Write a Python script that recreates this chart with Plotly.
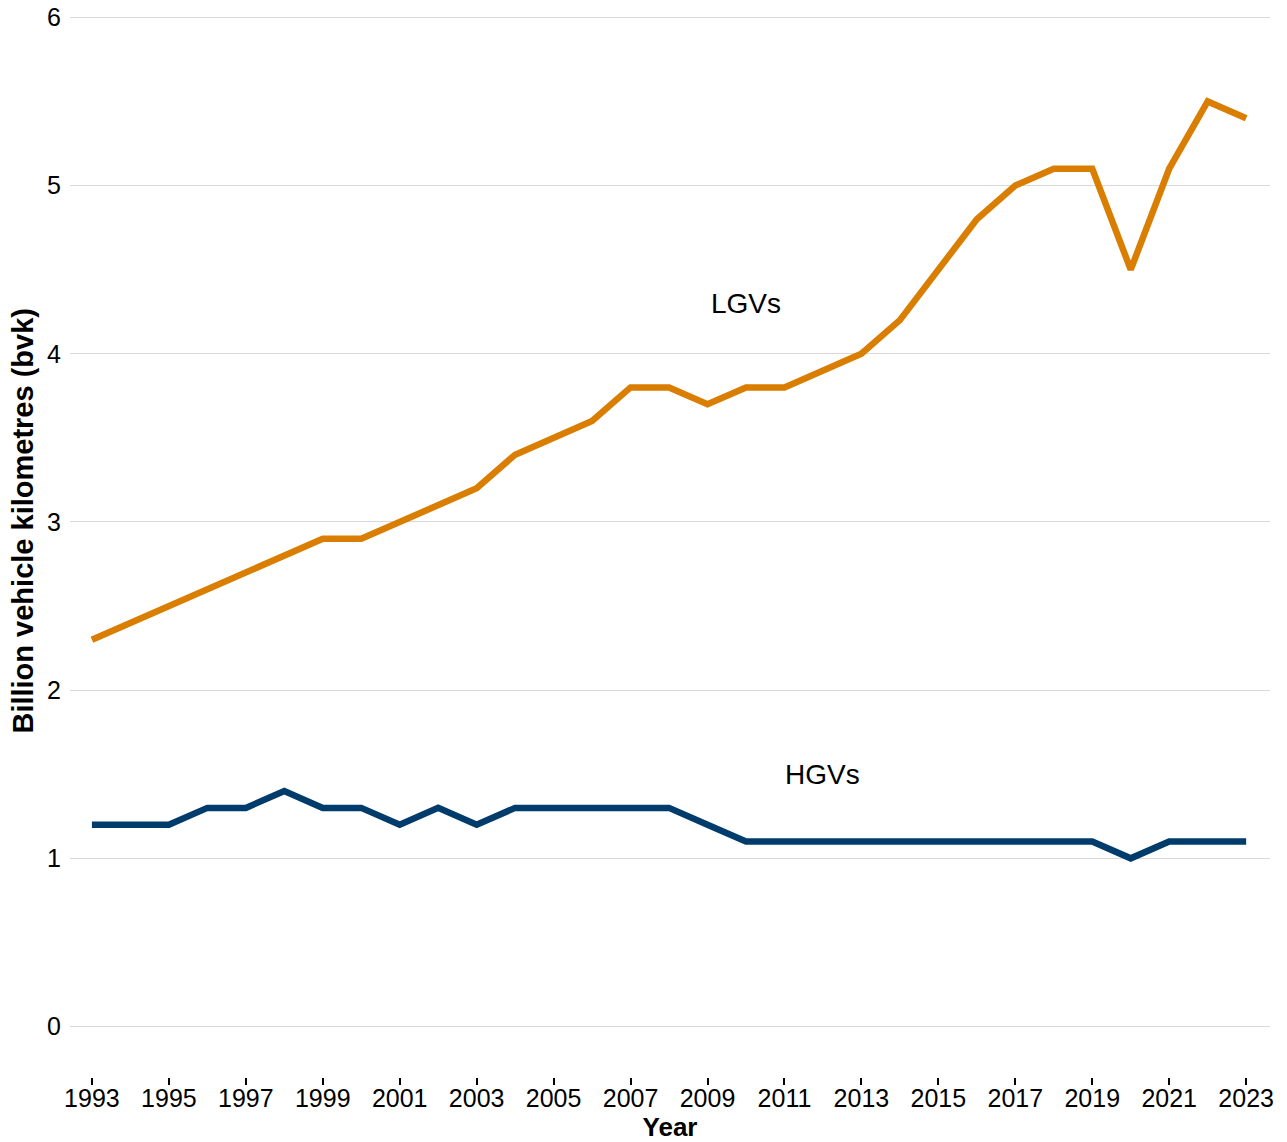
import plotly.graph_objects as go

years = list(range(1993, 2024))
lgv = [2.3, 2.4, 2.5, 2.6, 2.7, 2.8, 2.9, 2.9, 3.0, 3.1, 3.2, 3.4, 3.5, 3.6, 3.8, 3.8,
       3.7, 3.8, 3.8, 3.9, 4.0, 4.2, 4.5, 4.8, 5.0, 5.1, 5.1, 4.5, 5.1, 5.5, 5.4]
hgv = [1.2, 1.2, 1.2, 1.3, 1.3, 1.4, 1.3, 1.3, 1.2, 1.3, 1.2, 1.3, 1.3, 1.3, 1.3, 1.3,
       1.2, 1.1, 1.1, 1.1, 1.1, 1.1, 1.1, 1.1, 1.1, 1.1, 1.1, 1.0, 1.1, 1.1, 1.1]
tick_years = list(range(1993, 2024, 2))
y_ticks = [0, 1, 2, 3, 4, 5, 6]

FONT = "Liberation Sans, Arial, sans-serif"

fig = go.Figure()
fig.add_trace(go.Scatter(x=years, y=lgv, mode="lines", name="LGVs",
                         line=dict(color="#D97E00", width=6.5)))
fig.add_trace(go.Scatter(x=years, y=hgv, mode="lines", name="HGVs",
                         line=dict(color="#003C6B", width=6.5)))

fig.add_annotation(x=2010, y=4.3, text="LGVs", showarrow=False,
                   font=dict(family=FONT, size=28, color="#000000"))
fig.add_annotation(x=2012, y=1.5, text="HGVs", showarrow=False,
                   font=dict(family=FONT, size=28, color="#000000"))
# y-axis title (placed as annotation to match the reference position)
fig.add_annotation(xref="paper", yref="paper", x=-0.03875, y=0.523,
                   xanchor="center", yanchor="middle", textangle=-90,
                   text="<b>Billion vehicle kilometres (bvk)</b>", showarrow=False,
                   font=dict(family=FONT, size=29, color="#000000"))

fig.update_layout(
    width=1287, height=1142,
    margin=dict(l=70, r=17, t=14, b=65),
    paper_bgcolor="white", plot_bgcolor="white",
    showlegend=False,
    font=dict(family=FONT, size=25, color="#000000"),
)
fig.update_xaxes(
    range=[1992.43, 2023.62],
    tickmode="array", tickvals=tick_years, ticktext=[str(y) for y in tick_years],
    showgrid=False, zeroline=False, showline=False,
    ticks="outside", ticklen=7, tickwidth=2, tickcolor="#000000",
    tickfont=dict(family=FONT, size=25, color="#000000"),
    ticklabelstandoff=-8,
    title=dict(text="<b>Year</b>", standoff=2,
               font=dict(family=FONT, size=26, color="#000000")),
    automargin=False,
)
fig.update_yaxes(
    range=[-0.3, 6.02],
    tickmode="array", tickvals=y_ticks,
    showgrid=True, gridcolor="#D9D9D9", gridwidth=1,
    zeroline=False, showline=False, ticks="",
    tickfont=dict(family=FONT, size=25, color="#000000"),
    ticklabelstandoff=8, ticklabeloverflow="allow",
    automargin=False,
)

fig.write_html("out.html",
               config={"displayModeBar": False},
               post_script="document.body.style.margin='0';document.body.style.overflow='hidden';")
